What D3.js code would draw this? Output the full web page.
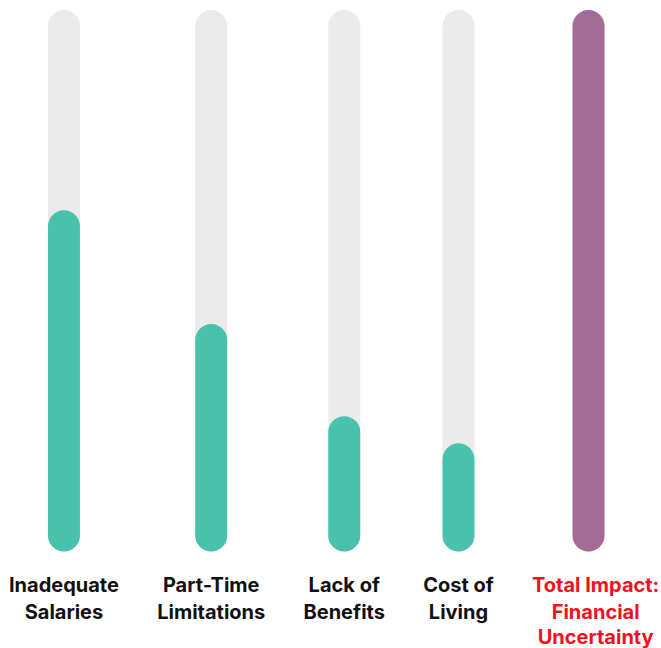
<!DOCTYPE html>
<html>
<head>
<meta charset="utf-8">
<script src="https://cdn.jsdelivr.net/npm/d3@7"></script>
<style>
  html, body { margin: 0; padding: 0; background: #ffffff; }
  svg { display: block; }
</style>
</head>
<body>
<svg id="chart" width="661" height="648"></svg>
<script>
// ---- data ----
const categories = ["Inadequate Salaries", "Part-Time Limitations", "Lack of Benefits", "Cost of Living", "Total Impact: Financial Uncertainty"];
const labelLines = [
  ["Inadequate", "Salaries"],
  ["Part-Time", "Limitations"],
  ["Lack of", "Benefits"],
  ["Cost of", "Living"],
  ["Total Impact:", "Financial", "Uncertainty"]
];
const values = [63, 42, 25, 20, 100];
const isTotal = [false, false, false, false, true];
const maxValue = 100;

// ---- layout ----
const W = 661, H = 648;
const left = 9, right = 645;
const barTop = 10, barBottom = 551.5, barWidth = 32;
const maxColWidth = 113;
const fontFamily = "Inter, 'Noto Sans', sans-serif";
const fontSize = 20;
const lineBaselines = [592, 618.5, 644];

const svg = d3.select("#chart");

// measure label line widths (flex-like column sizing)
const meas = svg.append("text")
  .attr("font-family", fontFamily).attr("font-size", fontSize).attr("font-weight", 700);
const lineWidths = labelLines.map(lines => d3.max(lines, l => { meas.text(l); return meas.node().getComputedTextLength(); }));
meas.remove();
const colBox = lineWidths.map(w => Math.min(w, maxColWidth));
const gap = (right - left - d3.sum(colBox)) / (categories.length - 1);
const colLeft = [];
colBox.forEach((w, i) => colLeft.push(i === 0 ? left : colLeft[i - 1] + colBox[i - 1] + gap));
const barCenters = colBox.map((w, i) => colLeft[i] + w / 2);
const textCenters = lineWidths.map((w, i) => colLeft[i] + Math.max(w, colBox[i]) / 2);

const x = d3.scaleOrdinal().domain(categories).range(barCenters);
const xText = d3.scaleOrdinal().domain(categories).range(textCenters);
const y = d3.scaleLinear().domain([0, maxValue]).range([barBottom, barTop]);

const data = categories.map((c, i) => ({ cat: c, value: values[i], total: isTotal[i], lines: labelLines[i] }));

// background tracks
svg.append("g").selectAll("rect").data(data).join("rect")
  .attr("x", d => x(d.cat) - barWidth / 2)
  .attr("y", y(maxValue))
  .attr("width", barWidth)
  .attr("height", y(0) - y(maxValue))
  .attr("rx", barWidth / 2).attr("ry", barWidth / 2)
  .attr("fill", "#ebebeb");

// value bars
svg.append("g").selectAll("rect").data(data).join("rect")
  .attr("x", d => x(d.cat) - barWidth / 2)
  .attr("y", d => y(d.value))
  .attr("width", barWidth)
  .attr("height", d => y(0) - y(d.value))
  .attr("rx", barWidth / 2).attr("ry", barWidth / 2)
  .attr("fill", d => d.total ? "#a46b97" : "#48c2ad");

// labels
const lbl = svg.append("g").selectAll("text").data(data).join("text")
  .attr("text-anchor", "middle")
  .attr("font-family", fontFamily)
  .attr("font-size", fontSize)
  .attr("font-weight", 700)
  .attr("fill", d => d.total ? "#f5101e" : "#111111");
lbl.selectAll("tspan").data(d => d.lines.map(l => ({ l, cat: d.cat }))).join("tspan")
  .attr("x", d => xText(d.cat))
  .attr("y", (d, i) => lineBaselines[i])
  .text(d => d.l);
</script>
</body>
</html>
